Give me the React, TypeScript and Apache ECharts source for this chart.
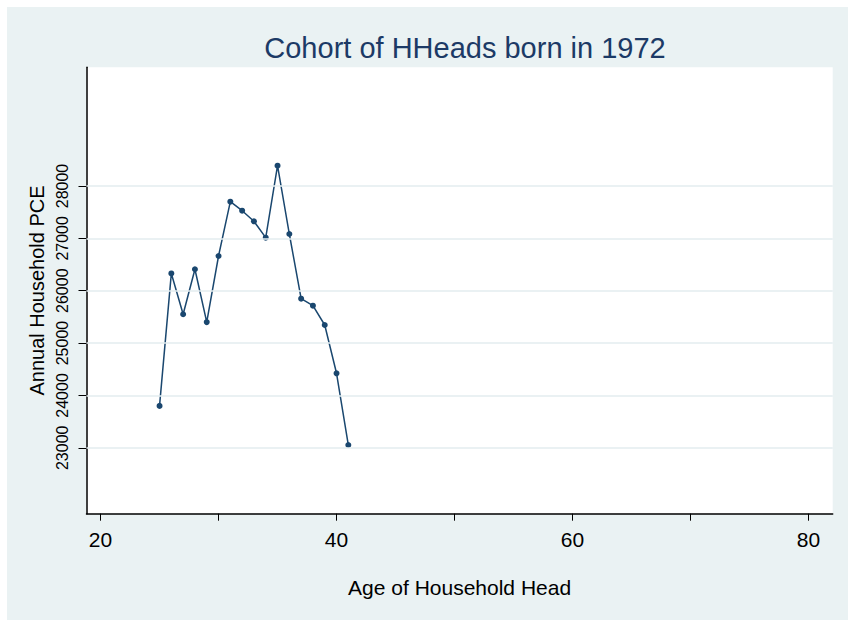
import React, { useEffect, useRef } from 'react';
import * as echarts from 'echarts';

const ages = [25, 26, 27, 28, 29, 30, 31, 32, 33, 34, 35, 36, 37, 38, 39, 40, 41];
const pce = [23800, 26330, 25550, 26410, 25400, 26663, 27700, 27528, 27326, 27013, 28388, 27083, 25848, 25714, 25345, 24423, 23053];
const xTickValues = [20, 30, 40, 50, 60, 70, 80];
const xLabelValues = [20, 40, 60, 80];
const yTickValues = [23000, 24000, 25000, 26000, 27000, 28000];

const FONT = '"Liberation Sans", Arial, Helvetica, sans-serif';

export default function App() {
  const ref = useRef<HTMLDivElement>(null);
  useEffect(() => {
    if (!ref.current) return;
    const chart = echarts.init(ref.current, undefined, { renderer: 'svg' });
    chart.setOption({
      animation: false,
      backgroundColor: '#EAF2F3',
      title: {
        text: 'Cohort of HHeads born in 1972',
        left: 453,
        top: 21,
        textAlign: 'center',
        textStyle: { fontSize: 29, fontWeight: 'normal', color: '#1c3a66', fontFamily: FONT },
      },
      grid: {
        left: 79.5,
        top: 60.3,
        right: 15.3,
        bottom: 106.3,
        show: true,
        backgroundColor: '#ffffff',
        borderWidth: 0,
        outerBoundsMode: 'none',
      },
      xAxis: {
        type: 'value',
        min: 18.81,
        max: 82.05,
        name: 'Age of Household Head',
        nameLocation: 'middle',
        nameGap: 63,
        nameTextStyle: { fontSize: 21, color: '#000', fontFamily: FONT },
        axisLine: { show: true, onZero: false, lineStyle: { color: '#000', width: 1.5 } },
        axisTick: { show: true, customValues: xTickValues, length: 7, lineStyle: { color: '#000', width: 1 } },
        axisLabel: { customValues: xLabelValues, margin: 15, fontSize: 21, color: '#000', fontFamily: FONT },
        splitLine: { show: false },
      },
      yAxis: {
        type: 'value',
        min: 21741,
        max: 30267,
        name: 'Annual Household PCE',
        nameLocation: 'middle',
        nameGap: 30,
        nameTextStyle: { fontSize: 20, color: '#000', fontFamily: FONT },
        axisLine: { show: true, onZero: false, lineStyle: { color: '#000', width: 1.5 } },
        axisTick: { show: true, customValues: yTickValues, length: 8, lineStyle: { color: '#000', width: 1 } },
        axisLabel: {
          customValues: yTickValues,
          rotate: 90,
          margin: 16,
          fontSize: 16,
          color: '#000',
          fontFamily: FONT,
          formatter: (v: number) => String(v),
        },
        splitLine: { show: false },
      },
      series: [
        {
          type: 'line',
          data: [],
          z: 1,
          silent: true,
          markLine: {
            silent: true,
            symbol: ['none', 'none'],
            label: { show: false },
            lineStyle: { color: '#e3ecef', width: 1.5, type: 'solid' },
            data: yTickValues.map((v) => ({ yAxis: v })),
          },
        },
        {
          type: 'line',
          z: 3,
          data: ages.map((a, i) => [a, pce[i]]),
          symbol: 'circle',
          symbolSize: 6,
          showSymbol: true,
          lineStyle: { color: '#1A476F', width: 1.5 },
          itemStyle: { color: '#1A476F' },
        },
      ],
    });
    return () => chart.dispose();
  }, []);
  return (
    <div
      ref={ref}
      style={{ position: 'absolute', left: 7, top: 7, width: 841, height: 613 }}
    />
  );
}
